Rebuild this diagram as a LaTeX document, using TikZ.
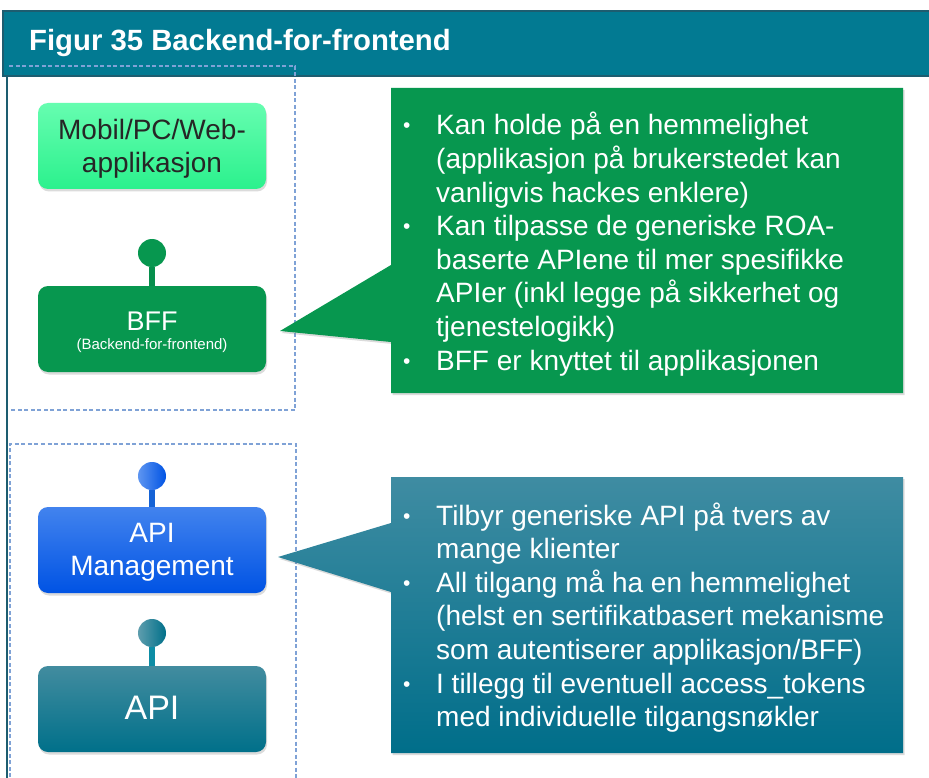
\documentclass[tikz,border=0pt]{standalone}
\usepackage{fontspec}
\setmainfont{Liberation Sans}
\usetikzlibrary{shadows}

\definecolor{barfill}{HTML}{027A92}
\definecolor{barline}{HTML}{1D5D70}
\definecolor{dashc}{HTML}{7FA2D6}
\definecolor{apptop}{HTML}{66FDB0}
\definecolor{appbot}{HTML}{2BF18D}
\definecolor{apptext}{HTML}{262626}
\definecolor{bffgreen}{HTML}{07974F}
\definecolor{bffstem}{HTML}{068F4C}
\definecolor{mgmttop}{HTML}{4283EE}
\definecolor{mgmtbot}{HTML}{0053E4}
\definecolor{mgmtstem}{HTML}{1563D6}
\definecolor{apitop}{HTML}{428C9F}
\definecolor{apibot}{HTML}{00708A}
\definecolor{apistem}{HTML}{0D8DA5}
\definecolor{noteteal}{HTML}{3F8CA2}
\definecolor{notetealbot}{HTML}{006E8A}

\newcommand{\blt}{\makebox[33pt][l]{\raisebox{2pt}{\fontsize{21}{21}\selectfont\textbullet}}}

\begin{document}
\begin{tikzpicture}[x=1pt,y=-1pt,
  box/.style={rounded corners=10pt, minimum width=228pt, minimum height=86pt,
    inner sep=0pt, drop shadow={opacity=.28, shadow xshift=1pt, shadow yshift=-2.5pt}},
  knob/.style={circle, minimum size=28pt, inner sep=0pt},
  stem/.style={line width=6pt},
  group/.style={draw=dashc, line width=1.3pt, dash pattern=on 4pt off 2.5pt},
  note/.style={drop shadow={opacity=.28, shadow xshift=1.5pt, shadow yshift=-2pt}},
  notetext/.style={text=white, inner sep=0pt, anchor=base west,
    font=\fontsize{28}{33.6}\selectfont},
]
\useasboundingbox (0,0) rectangle (929,778);
\fill[white] (0,0) rectangle (929,778);

% title bar and frame
\filldraw[fill=barfill, draw=barline, line width=1.5pt] (3,11) rectangle (940,76);
\node[text=white, anchor=base west, inner sep=0pt, font=\fontsize{29.3}{34}\selectfont\bfseries]
  (title) at (29,50.5) {Figur 35 Backend-for-frontend};

% grouping frames
\draw[group] (9,66) -- (295,66) -- (295,410) -- (9,410);
\draw[group] (10,790) -- (10,444) -- (296,444) -- (296,790);
\draw[barline, line width=2.2pt] (7,76) -- (7,790);

% component boxes
\node[box, top color=apptop, bottom color=appbot] (app) at (152,146) {};
\node[text=apptext, align=center, font=\fontsize{28}{33}\selectfont] (apptxt) at (152,149)
  {Mobil/PC/Web-\\applikasjon};

\node[box, fill=bffgreen] (bff) at (152,329) {};
\node[text=white, font=\fontsize{27}{30}\selectfont] (bffname) at (152,321) {BFF};
\node[text=white, font=\fontsize{15}{18}\selectfont] (bffsub) at (152,346) {(Backend-for-frontend)};
\node[knob, fill=bffgreen] (bffknob) at (152,253) {};
\draw[stem, bffstem] (bffknob.south) -- (bff.north);

\node[box, top color=mgmttop, bottom color=mgmtbot] (mgmt) at (152,550) {};
\node[text=white, align=center, font=\fontsize{28}{33}\selectfont] (mgmttxt) at (152,552)
  {API\\Management};
\node[knob, left color=mgmttop!85!white, right color=mgmtbot] (mgmtknob) at (152,476) {};
\draw[stem, mgmtstem] (mgmtknob.south) -- (mgmt.north);

\node[box, top color=apitop, bottom color=apibot] (api) at (152,709) {};
\node[text=white, font=\fontsize{34}{40}\selectfont] (apitxt) at (152,708) {API};
\node[knob, left color=apitop!85!white, right color=apibot] (apiknob) at (152,633) {};
\draw[stem, apistem] (apiknob.south) -- (api.north);

% callout for the BFF
\coordinate (bfftip) at (280,331);
\fill[note, bffgreen] (391,88) -- (903,88) -- (903,393) -- (391,393) -- (391,342)
  -- (bfftip) -- (391,265) -- cycle;
\node[notetext] (bffnote) at (403,135) {\begin{tabular}[t]{@{}l@{}l@{}}
\blt & Kan holde på en hemmelighet\\
     & (applikasjon på brukerstedet kan\\
     & vanligvis hackes enklere)\\
\blt & Kan tilpasse de generiske ROA-\\
     & baserte APIene til mer spesifikke\\
     & APIer (inkl legge på sikkerhet og\\
     & tjenestelogikk)\\
\blt & BFF er knyttet til applikasjonen
\end{tabular}};

% callout for API management
\coordinate (mgmttip) at (278,557);
\path[note, top color=noteteal, bottom color=notetealbot] (391,477) -- (903,477) -- (903,753)
  -- (391,753) -- (391,592) -- (mgmttip) -- (391,523) -- cycle;
\node[notetext] (mgmtnote) at (403,525) {\begin{tabular}[t]{@{}l@{}l@{}}
\blt & Tilbyr generiske API på tvers av\\
     & mange klienter\\
\blt & All tilgang må ha en hemmelighet\\
     & (helst en sertifikatbasert mekanisme\\
     & som autentiserer applikasjon/BFF)\\
\blt & I tillegg til eventuell access\_tokens\\
     & med individuelle tilgangsnøkler
\end{tabular}};
\end{tikzpicture}
\end{document}
